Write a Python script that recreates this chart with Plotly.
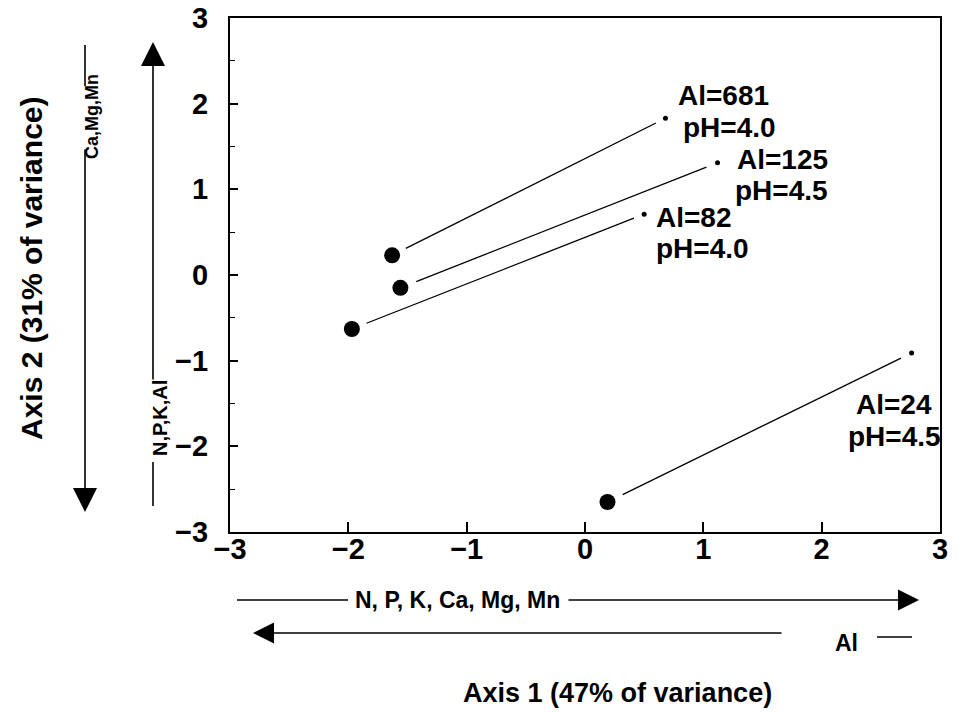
import plotly.graph_objects as go

# ---- data ----
big_x = [-1.63, -1.56, -1.97, 0.19]
big_y = [0.23, -0.15, -0.63, -2.65]
small_x = [0.68, 1.12, 0.50, 2.76]
small_y = [1.83, 1.31, 0.71, -0.91]
al_labels = ["Al=681", "Al=125", "Al=82", "Al=24"]
ph_labels = ["pH=4.0", "pH=4.5", "pH=4.0", "pH=4.5"]
x_ticks = [-3, -2, -1, 0, 1, 2, 3]
y_ticks = [-3, -2, -1, 0, 1, 2, 3]

# ---- layout geometry (screen pixels) ----
W, H = 963, 714
L, R, T, B = 230, 940, 18, 532          # plot area in screen pixels
FONT = "Liberation Sans, Arial, Helvetica, sans-serif"
NARROW = "Liberation Sans Narrow, Arial Narrow, Liberation Sans, sans-serif"


def px(x):
    return (x - L) / (R - L)


def py(y):
    return (B - y) / (B - T)


fig = go.Figure()

# connecting lines (slightly shortened at both ends)
t0, t1 = 0.05, 0.965
for bx, by, sx, sy in zip(big_x, big_y, small_x, small_y):
    fig.add_trace(go.Scatter(
        x=[bx + t0 * (sx - bx), bx + t1 * (sx - bx)],
        y=[by + t0 * (sy - by), by + t1 * (sy - by)],
        mode="lines", line=dict(color="black", width=1.3),
        showlegend=False, hoverinfo="skip"))

fig.add_trace(go.Scatter(x=big_x, y=big_y, mode="markers",
                         marker=dict(color="black", size=16),
                         showlegend=False))
fig.add_trace(go.Scatter(x=small_x, y=small_y, mode="markers",
                         marker=dict(color="black", size=5),
                         showlegend=False))

# label placement (pixel offsets from the small dots)
al_off = [(11, 23, "left"), (17, 3, "left"), (10, -3, "left"), (-18, -52, "center")]
ph_off = [(16, -9, "left"), (15, -28, "left"), (10, -34, "left"), (-17, -84, "center")]
lab_font = dict(family=FONT, size=28, color="black")
for i in range(len(small_x)):
    for txt, (dx, dy, anc) in ((al_labels[i], al_off[i]), (ph_labels[i], ph_off[i])):
        fig.add_annotation(x=small_x[i], y=small_y[i], text="<b>%s</b>" % txt,
                           showarrow=False, xanchor=anc, yanchor="middle",
                           xshift=dx, yshift=dy, font=lab_font)


def text(x, y, s, size, family=FONT, angle=0):
    fig.add_annotation(xref="paper", yref="paper", x=px(x), y=py(y),
                       text="<b>%s</b>" % s, showarrow=False, textangle=angle,
                       xanchor="center", yanchor="middle",
                       font=dict(family=family, size=size, color="black"))


def seg(x0, y0, x1, y1, w=1.5):
    fig.add_shape(type="line", xref="paper", yref="paper",
                  x0=px(x0), x1=px(x1), y0=py(y0), y1=py(y1),
                  line=dict(color="black", width=w))


def arrow(hx, hy, tx, ty, w=1.5):
    fig.add_annotation(xref="paper", yref="paper", x=px(hx), y=py(hy),
                       ax=tx - hx, ay=ty - hy, axref="pixel", ayref="pixel",
                       text="", showarrow=True, arrowhead=2, arrowsize=3,
                       arrowwidth=w, arrowcolor="black")


# ---- vertical arrows on the left ----
seg(85, 45, 85, 86, 1.6)
text(92, 117, "Ca,Mg,Mn", 18, NARROW, -90)
arrow(85, 512, 85, 148, 1.6)

arrow(153, 42, 153, 381, 1.6)
text(160, 418, "N,P,K,Al", 20, NARROW, -90)
seg(153, 462, 153, 506, 1.6)

# ---- horizontal arrows below ----
seg(237, 600, 348, 600, 1.3)
text(457, 600, "N, P, K, Ca, Mg, Mn", 23)
arrow(919, 600, 567, 600, 1.4)

arrow(253, 633, 783, 633, 1.4)
text(846, 643, "Al", 23)
seg(877, 637, 912, 637, 1.3)

# ---- axis titles ----
text(617, 693, "Axis 1 (47% of variance)", 27)
text(31, 268, "Axis 2 (31% of variance)", 30, FONT, -90)


def fmt(v):
    return "<b>%s</b>" % (("\u2212%d" % -v) if v < 0 else str(v))


tick_font = dict(family=FONT, size=29, color="black")
fig.update_xaxes(range=[-3, 3], tickvals=x_ticks, ticktext=[fmt(v) for v in x_ticks],
                 ticks="inside", ticklen=10, tickwidth=1.5, tickcolor="black",
                 showline=True, linecolor="black", linewidth=2, mirror=True,
                 showgrid=False, zeroline=False, tickfont=tick_font,
                 ticklabelstandoff=-10, automargin=False)
fig.update_yaxes(range=[-3, 3], tickvals=y_ticks, ticktext=[fmt(v) for v in y_ticks],
                 ticks="inside", ticklen=8, tickwidth=1.5, tickcolor="black",
                 minor=dict(dtick=0.5, ticks="inside", ticklen=5, tickcolor="black", tickwidth=1),
                 showline=True, linecolor="black", linewidth=2, mirror=True,
                 showgrid=False, zeroline=False, tickfont=tick_font,
                 ticklabelstandoff=14, automargin=False)

fig.update_layout(width=W, height=H,
                  margin=dict(l=L, r=W - R, t=T, b=H - B, autoexpand=False),
                  plot_bgcolor="white", paper_bgcolor="white",
                  showlegend=False)

fig.write_html("out.html", config={"displayModeBar": False},
               post_script="document.body.style.margin='0';document.body.style.overflow='hidden';")
